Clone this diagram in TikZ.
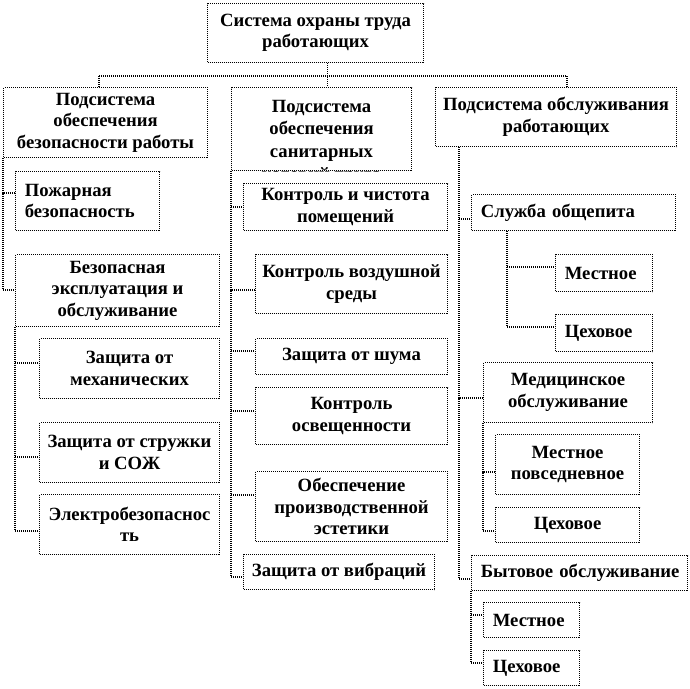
\documentclass[tikz,border=0pt]{standalone}
\usepackage{fontspec}
\setmainfont{Liberation Serif}
\usetikzlibrary{calc}

\tikzset{
  txt/.style={font=\fontsize{14}{16.1}\selectfont\bfseries, align=center},
  box/.style={txt, draw=black, line width=0.8pt,
              dash pattern=on 0.75pt off 0.75pt, fill=white,
              inner sep=0pt, anchor=north west},
  sz/.style n args={2}{minimum width=#1*0.75pt, minimum height=#2*0.75pt},
  lbox/.style n args={2}{box, align=left, inner xsep=7pt,
                         text width=#1*0.75pt-14pt, minimum height=#2*0.75pt},
  conn/.style={draw=black, line width=0.8pt, dash pattern=on 0.75pt off 0.75pt}
}

\begin{document}
\begin{tikzpicture}[x=0.75pt, y=-0.75pt]
  \fill[white] (0,0) rectangle (690,689);
  \useasboundingbox (0,0) rectangle (690,689);

  % Top and the three subsystems
  \node[box, sz={216}{59}] (top) at (207,3) {Система охраны труда\\работающих};
  \node[box, sz={204}{70}] (bsub) at (3,87) {Подсистема\\обеспечения\\безопасности работы};
  \node[box, sz={180}{83}] (ssub) at (231,87) {};
  \begin{scope}
    \clip (ssub.north west) rectangle (ssub.south east);
    \node[txt, font=\fontsize{14}{17}\selectfont\bfseries, inner sep=9.5pt,
          anchor=north] (ssubtxt) at (ssub.north)
      {Подсистема\\обеспечения\\санитарных\\условий труда};
  \end{scope}
  \node[box, sz={241}{59}] (osub) at (435,87) {Подсистема обслуживания\\работающих};

  % Safety column
  \node[lbox={144}{59}] (pozh) at (15,171) {Пожарная\\безопасность};
  \node[box, sz={204}{72}] (bezex) at (15,254) {Безопасная\\эксплуатация и\\обслуживание};
  \node[box, sz={180}{60}] (mech) at (39,338) {Защита от\\механических};
  \node[box, sz={180}{60}] (struzh) at (39,422) {Защита от стружки\\и СОЖ};
  \node[box, sz={180}{60}] (elek) at (39,494) {Электробезопаснос\\ть};

  % Sanitary column
  \node[box, sz={204}{47}] (kchist) at (243,183) {Контроль и чистота\\помещений};
  \node[box, sz={192}{59}] (kvozd) at (255,254) {Контроль воздушной\\среды};
  \node[box, sz={192}{36}] (shum) at (255,338) {Защита от шума};
  \node[box, sz={192}{57}] (osv) at (255,387) {Контроль\\освещенности};
  \node[box, sz={192}{70}] (estet) at (255,471) {Обеспечение\\производственной\\эстетики};
  \node[box, sz={191}{35}] (vibr) at (243,554) {Защита от вибраций};

  % Service column
  \node[lbox={204}{36}] (sluzh) at (471,194) {\mbox{Служба общепита}};
  \node[lbox={97}{37}] (om) at (555,254) {Местное};
  \node[lbox={97}{37}] (oc) at (555,314) {Цеховое};
  \node[box, sz={169}{60}] (med) at (483,362) {Медицинское\\обслуживание};
  \node[box, sz={144}{60}] (mp) at (495,434) {Местное\\повседневное};
  \node[box, sz={144}{35}] (mc) at (495,507) {Цеховое};
  \node[lbox={216}{35}] (byt) at (471,555) {\mbox{Бытовое обслуживание}};
  \node[lbox={96}{35}] (bm) at (483,602) {Местное};
  \node[lbox={96}{35}] (bc) at (483,650) {Цеховое};

  % Top bus
  \coordinate (busL) at (99,76);
  \coordinate (busR) at (567,76);
  \draw[conn] ($(top.south)+(12,0)$) -- ($(ssub.north)+(6,0)$);
  \draw[conn] (busL) -- (busR);
  \draw[conn] (busL) -- (busL |- bsub.north);
  \draw[conn] (busR) -- (busR |- osub.north);

  % Safety branches
  \draw[conn] (bsub.south west) |- ($(pozh.north west)+(0,22)$);
  \draw[conn] (bsub.south west) |- ($(bezex.north west)+(0,36)$);
  \draw[conn] (bezex.south west) |- ($(mech.north west)+(0,25)$);
  \draw[conn] (bezex.south west) |- ($(struzh.north west)+(0,35)$);
  \draw[conn] (bezex.south west) |- ($(elek.north west)+(0,37)$);

  % Sanitary branches
  \draw[conn] (ssub.south west) |- ($(kchist.north west)+(0,24)$);
  \draw[conn] (ssub.south west) |- ($(kvozd.north west)+(0,36)$);
  \draw[conn] (ssub.south west) |- ($(shum.north west)+(0,13)$);
  \draw[conn] (ssub.south west) |- ($(osv.north west)+(0,24)$);
  \draw[conn] (ssub.south west) |- ($(estet.north west)+(0,24)$);
  \draw[conn] (ssub.south west) |- ($(vibr.north west)+(0,23)$);

  % Service branches
  \coordinate (rsp) at ($(osub.south west)+(24,0)$);
  \draw[conn] (rsp) |- ($(sluzh.north west)+(0,25)$);
  \draw[conn] (rsp) |- ($(med.north west)+(0,36)$);
  \draw[conn] (rsp) |- ($(byt.north west)+(0,24)$);
  \coordinate (ssp) at ($(sluzh.south west)+(36,0)$);
  \draw[conn] (ssp) |- ($(om.north west)+(0,13)$);
  \draw[conn] (ssp) |- ($(oc.north west)+(0,13)$);
  \draw[conn] (med.south west) |- ($(mp.north west)+(0,38)$);
  \draw[conn] (med.south west) |- ($(mc.north west)+(0,24)$);
  \draw[conn] (byt.south west) |- ($(bm.north west)+(0,13)$);
  \draw[conn] (byt.south west) |- ($(bc.north west)+(0,13)$);
\end{tikzpicture}
\end{document}
